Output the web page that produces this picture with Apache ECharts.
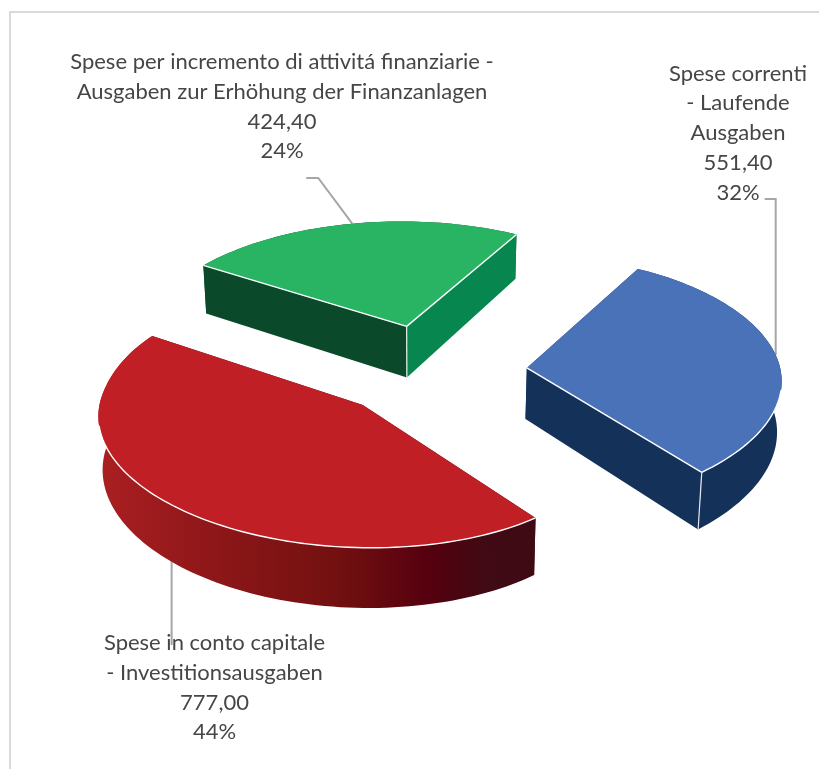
<!DOCTYPE html>
<html><head><meta charset="utf-8">
<style>html,body{margin:0;padding:0;background:#fff}#c{width:819px;height:769px}</style>
<script src="https://cdn.jsdelivr.net/npm/echarts@6/dist/echarts.min.js"></script>
</head><body><div id="c"></div>
<script>
// ---- data ----
const categories = [
  ['Spese correnti', '- Laufende', 'Ausgaben'],
  ['Spese in conto capitale', '- Investitionsausgaben'],
  ['Spese per incremento di attivitá finanziarie -', 'Ausgaben zur Erhöhung der Finanzanlagen']
];
const values = [551.40, 777.00, 424.40];
const valueLabels = ['551,40', '777,00', '424,40'];
const percentLabels = ['32%', '44%', '24%'];

// ---- projection of the tilted pie ----
const firstAngle = 29.5, center = [429, 371], radiusX = 258, radiusY = 121;
const perspective = 0.153, sidePerspective = 0.024, depth = 51, explode = 0.38, vanishX = 425, bottomScale = 0.987;
const frontArc = [103, 257];
const sliceShear = [-0.02, 0.03, 0];
const sliceScaleX = [1, 0.988, 0.99];
const sliceShiftX = [0, 0, 1.5];
const backStretchX = [0, 0.13, 0];
const backStretchY = [0.06, 0.05, 0];

// ---- styles ----
const topColors = ['#4a72b8', '#c01f26', '#28b463'];
const wallColors = ['#14315a', null, '#0a4a2b'];
const startCutColors = ['#14315a', '#3f0a14', '#0a4a2b'];
const endCutColors = ['#14315a', '#3f0a14', '#08864f'];
const whiteEdges = [{end: 1, arc: 1, endPost: 1}, {arc: 1}, {start: 1, end: 1, apexPost: 1}];
const labelCenters = [[738, 73.5], [214.5, 643], [282, 62]];
const lineHeight = 29.8, textColor = '#464646', leaderColor = '#a6a6a6';
const leaderRadius = [1.0, 0.97, 1.0];
const leaderElbowY = [199, null, 178];

const total = values.reduce((a, b) => a + b, 0);
const rad = d => d * Math.PI / 180;
function ground(a, r) { return [r * Math.sin(rad(a)), -r * Math.cos(rad(a))]; }
function makeProjector(mid, i) {
  const ax = center[0] + radiusX * explode * Math.sin(rad(mid)) + sliceShiftX[i];
  const ay = center[1] - radiusY * explode * Math.cos(rad(mid));
  return function (X, Y, low) {
    const w = 1 - perspective * Y + sidePerspective * X;
    let dx = radiusX * sliceScaleX[i] * X / w, dy = radiusY * Y / w;
    if (Y < 0) { dx *= 1 + backStretchX[i] * Y * Y; dy *= 1 - backStretchY[i] * Y; }
    let x = ax + dx, y = ay + dy + sliceShear[i] * dx;
    if (low) { x = vanishX + (x - vanishX) * bottomScale; y += depth / w; }
    return [x, y];
  };
}
function renderItem(params, api) {
  const i = params.dataIndex;
  let start = firstAngle;
  for (let k = 0; k < i; k++) start += values[k] / total * 360;
  const sweep = api.value(0) / total * 360, end = start + sweep, mid = start + sweep / 2;
  const P = makeProjector(mid, i);
  const arc = (low, from, to) => {
    const pts = [], n = Math.max(2, Math.ceil((to - from) / 1.5));
    for (let s = 0; s <= n; s++) {
      const g = ground(from + (to - from) * s / n, 1);
      pts.push(P(g[0], g[1], low));
    }
    return pts;
  };
  const topArc = arc(false, start, end), lowArc = arc(true, start, end);
  const apex = P(0, 0, false), apexLow = P(0, 0, true);
  const poly = (points, fill) => ({type: 'polygon', shape: {points}, style: {fill}, silent: true});
  const line = (points, color, w) => ({type: 'polyline', shape: {points}, style: {stroke: color, lineWidth: w, fill: null, lineJoin: 'miter'}, silent: true});
  const kids = [];

  // leader
  const lg = ground(mid, leaderRadius[i]), anchor = P(lg[0], lg[1], false);
  const L = labelCenters[i];
  if (i === 0) kids.push(line([[anchor[0] - 11, leaderElbowY[0]], [anchor[0], leaderElbowY[0]], anchor], leaderColor, 2));
  if (i === 1) kids.push(line([anchor, [anchor[0], L[1] + 2]], leaderColor, 2));
  if (i === 2) kids.push(line([[anchor[0] - 46, leaderElbowY[2]], [anchor[0] - 34, leaderElbowY[2]], anchor], leaderColor, 2));

  // walls
  const wallFill = wallColors[i] || new echarts.graphic.LinearGradient(0, 0, 1, 0, [
    {offset: 0, color: '#ab1f22'}, {offset: 0.25, color: '#8f1719'}, {offset: 0.55, color: '#721010'},
    {offset: 0.76, color: '#55000f'}, {offset: 0.88, color: '#410a14'}, {offset: 1, color: '#3f0a14'}]);
  kids.push(poly(topArc.concat(lowArc.slice().reverse()), wallFill));
  kids.push(poly([apex, topArc[0], lowArc[0], apexLow], startCutColors[i]));
  kids.push(poly([apex, topArc[topArc.length - 1], lowArc[lowArc.length - 1], apexLow], endCutColors[i]));

  // top face
  kids.push(poly([apex].concat(topArc), topColors[i]));

  // light edges
  const e = whiteEdges[i];
  if (e.start) kids.push(line([apex, topArc[0]], '#fff', 1.4));
  if (e.end) kids.push(line([apex, topArc[topArc.length - 1]], '#fff', 1.4));
  if (e.arc) kids.push(line(arc(false, Math.max(start, frontArc[0]), Math.min(end, frontArc[1])), '#fff', 1.4));
  if (e.endPost) kids.push(line([topArc[topArc.length - 1], lowArc[lowArc.length - 1]], '#e4e8ee', 1.2));
  if (e.apexPost) kids.push(line([apex, apexLow], '#e8efe9', 1.2));

  // label
  const lines = categories[i].concat([valueLabels[i], percentLabels[i]]);
  lines.forEach((t, n) => kids.push({
    type: 'text', silent: true,
    style: {text: t, x: L[0], y: L[1] + n * lineHeight, align: 'center', verticalAlign: 'middle',
      fill: textColor, font: '22px Lato, "Open Sans", sans-serif'}
  }));
  return {type: 'group', children: kids};
}

const chart = echarts.init(document.getElementById('c'), null, {renderer: 'canvas'});
chart.setOption({
  animation: false,
  backgroundColor: '#fff',
  graphic: [{type: 'polyline', silent: true, shape: {points: [[10, 769], [10, 12], [819, 12]]},
    style: {stroke: '#d9d9d9', lineWidth: 2, fill: null}}],
  series: [{
    type: 'custom', coordinateSystem: 'none', renderItem, clip: false,
    data: values.map((v, i) => ({value: [v], name: categories[i].join(' ')}))
  }]
});
</script></body></html>
